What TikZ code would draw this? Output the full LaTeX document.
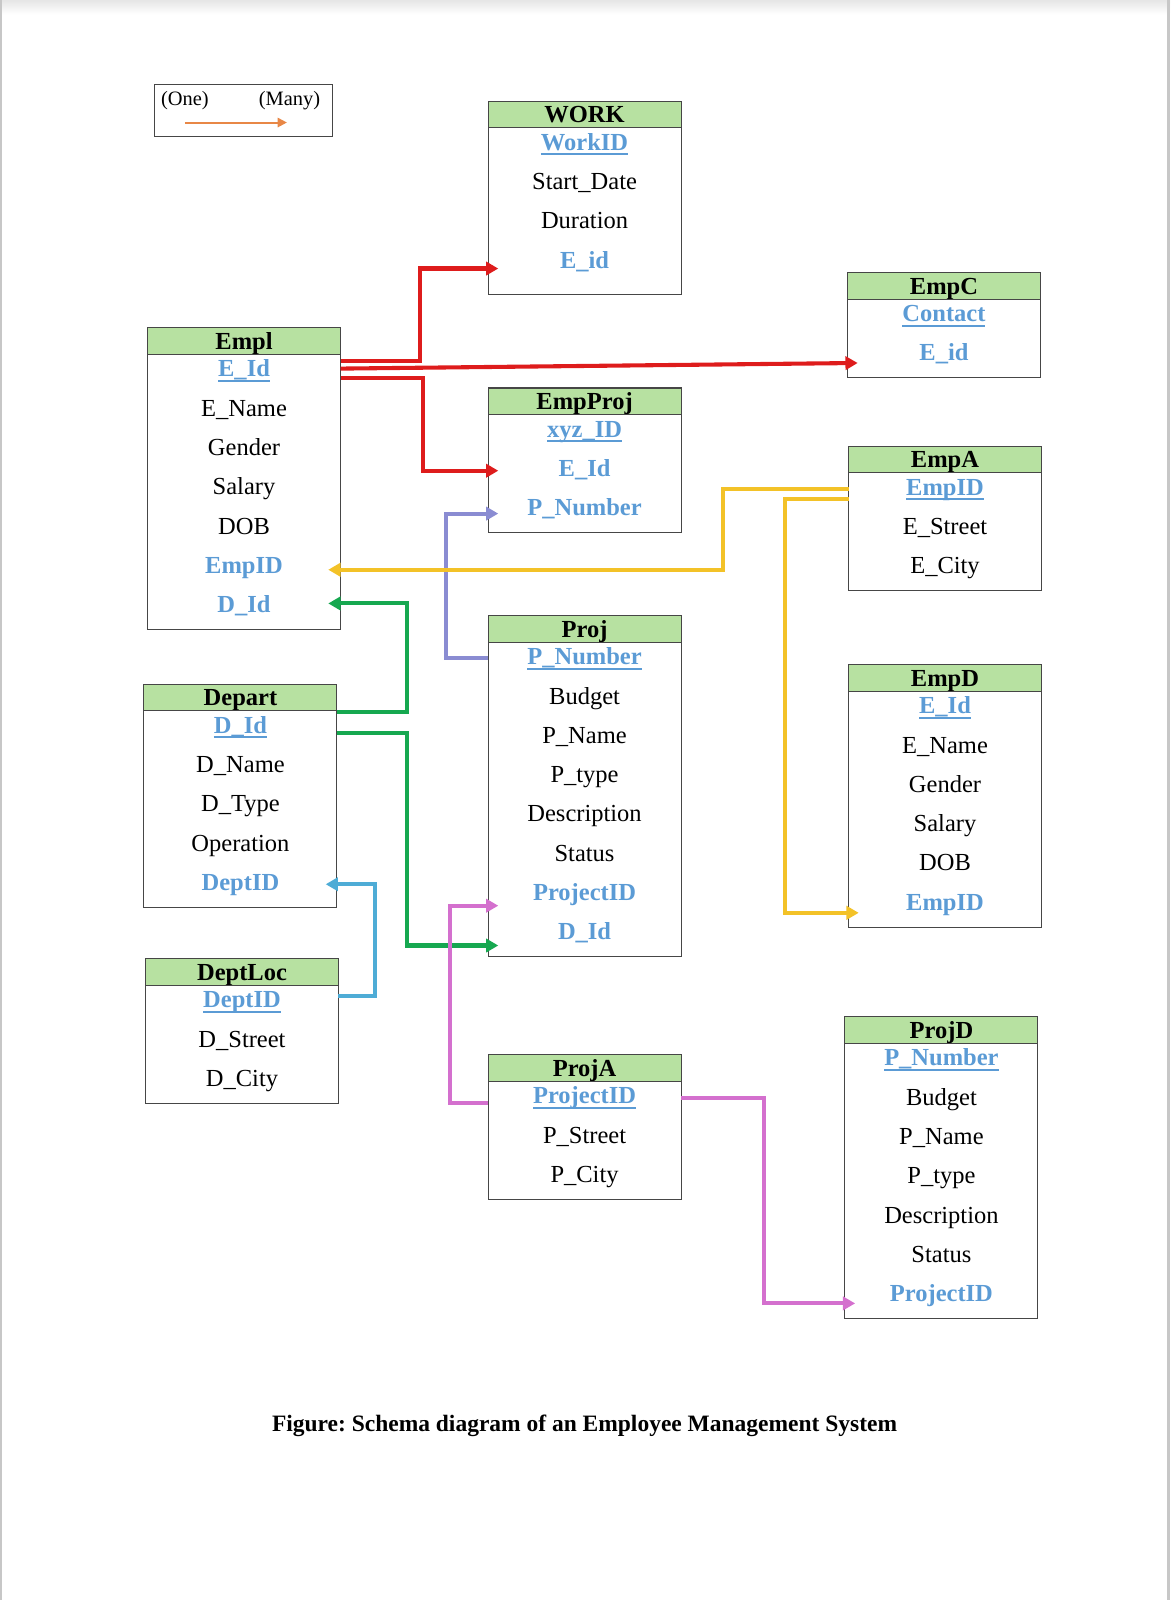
\documentclass[tikz,border=0pt]{standalone}
\usepackage{fontspec}
\setmainfont{Liberation Serif}
\usepackage{tikz}
\usetikzlibrary{calc, positioning, arrows.meta}

\definecolor{hdrgreen}{RGB}{183,225,161}
\definecolor{keyblue}{RGB}{91,155,213}
\definecolor{boxgray}{RGB}{70,70,70}
\definecolor{relred}{RGB}{222,28,28}
\definecolor{relgold}{RGB}{243,194,40}
\definecolor{relgreen}{RGB}{22,168,80}
\definecolor{relviolet}{RGB}{138,140,210}
\definecolor{relsky}{RGB}{78,172,214}
\definecolor{relpink}{RGB}{212,112,206}
\definecolor{legorange}{RGB}{232,135,70}

\newcommand\tblfont{\fontsize{12}{14}\selectfont}
\newcommand\keyul[1]{\setbox0=\hbox{#1}\rlap{\rule[-2.4pt]{\wd0}{0.9pt}}\box0}
\frenchspacing

\begin{document}
\begin{tikzpicture}[x=0.5pt, y=-0.5pt,
            tblhead/.style={draw=boxgray, line width=0.5pt, fill=hdrgreen,
                    minimum width=94.5pt, minimum height=13pt, inner sep=0pt,
                    outer sep=0pt, anchor=north, text height=8pt, text depth=0pt,
                    font=\tblfont\bfseries},
            tblbody/.style={draw=boxgray, line width=0.5pt, minimum width=94.5pt,
                    minimum height=#1*19.25pt, inner sep=0pt, outer sep=0pt},
            field/.style={inner sep=0pt, text height=8pt, text depth=0pt, font=\tblfont},
            keyfield/.style={field, text=keyblue, font=\tblfont\bfseries},
            rel/.style={line width=2pt, -{Triangle[length=6pt,width=6.5pt]}},
            legendbox/.style={draw=boxgray, line width=0.5pt, minimum width=87.5pt,
                    minimum height=25.5pt, inner sep=0pt},
            legendtext/.style={inner sep=0pt, font=\fontsize{10}{12}\selectfont},
        ]

        \useasboundingbox (0,0) rectangle (1146,1567);
        % page edges
        \shade[top color=black!10, bottom color=white] (0,0) rectangle (1146,14);
        \fill[black!22] (0,0) rectangle (2,1567);
        \fill[black!22] (1143,0) rectangle (1146,1567);

        % legend
        \node[legendbox] (legend) at (238.5,108.5) {};
        \node[legendtext] (one) at (181,99) {(One)};
        \node[legendtext] (many) at (283.5,99) {(Many)};
        \coordinate (lega) at (181,120);
        \coordinate (legb) at (281,120);
        \draw[legorange, line width=1pt, -{Triangle[length=4.5pt,width=4.5pt]}] (lega) -- (legb);

        % tables
        \node[tblhead] (workh) at (572.5,99) {WORK};
        \node[tblbody=4, minimum height=81.5pt, below=0pt of workh] (work) {};
        \foreach \kind/\field [count=\i] in {keyfield/\keyul{WorkID}, field/Start\_Date, field/Duration, keyfield/E\_id}
            \node[\kind] (work-\i) at ($(work.north)+(0,38.5*\i-24.5)$) {\field};

        \node[tblhead] (empch) at (924.5,267) {EmpC};
        \node[tblbody=2, below=0pt of empch] (empc) {};
        \foreach \kind/\field [count=\i] in {keyfield/\keyul{Contact}, keyfield/E\_id}
            \node[\kind] (empc-\i) at ($(empc.north)+(0,38.5*\i-24.5)$) {\field};

        \node[tblhead] (emplh) at (239,321) {Empl};
        \node[tblbody=7, below=0pt of emplh] (empl) {};
        \foreach \kind/\field [count=\i] in {keyfield/\keyul{E\_Id}, field/E\_Name, field/Gender, field/Salary, field/DOB, keyfield/EmpID, keyfield/D\_Id}
            \node[\kind] (empl-\i) at ($(empl.north)+(0,38.5*\i-24.5)$) {\field};

        \node[tblhead] (empprojh) at (572.5,380) {EmpProj};
        \node[tblbody=3, below=0pt of empprojh] (empproj) {};
        \foreach \kind/\field [count=\i] in {keyfield/\keyul{xyz\_ID}, keyfield/E\_Id, keyfield/P\_Number}
            \node[\kind] (empproj-\i) at ($(empproj.north)+(0,38.5*\i-24.5)$) {\field};

        \node[tblhead] (empah) at (925.5,437) {EmpA};
        \node[tblbody=3, below=0pt of empah] (empa) {};
        \foreach \kind/\field [count=\i] in {keyfield/\keyul{EmpID}, field/E\_Street, field/E\_City}
            \node[\kind] (empa-\i) at ($(empa.north)+(0,38.5*\i-24.5)$) {\field};

        \node[tblhead] (projh) at (572.5,603) {Proj};
        \node[tblbody=8, below=0pt of projh] (proj) {};
        \foreach \kind/\field [count=\i] in {keyfield/\keyul{P\_Number}, field/Budget, field/P\_Name, field/P\_type, field/Description, field/Status, keyfield/ProjectID, keyfield/D\_Id}
            \node[\kind] (proj-\i) at ($(proj.north)+(0,38.5*\i-24.5)$) {\field};

        \node[tblhead] (empdh) at (925.5,651) {EmpD};
        \node[tblbody=6, below=0pt of empdh] (empd) {};
        \foreach \kind/\field [count=\i] in {keyfield/\keyul{E\_Id}, field/E\_Name, field/Gender, field/Salary, field/DOB, keyfield/EmpID}
            \node[\kind] (empd-\i) at ($(empd.north)+(0,38.5*\i-24.5)$) {\field};

        \node[tblhead] (departh) at (235.5,670) {Depart};
        \node[tblbody=5, below=0pt of departh] (depart) {};
        \foreach \kind/\field [count=\i] in {keyfield/\keyul{D\_Id}, field/D\_Name, field/D\_Type, field/Operation, keyfield/DeptID}
            \node[\kind] (depart-\i) at ($(depart.north)+(0,38.5*\i-24.5)$) {\field};

        \node[tblhead] (deptloch) at (237,939) {DeptLoc};
        \node[tblbody=3, below=0pt of deptloch] (deptloc) {};
        \foreach \kind/\field [count=\i] in {keyfield/\keyul{DeptID}, field/D\_Street, field/D\_City}
            \node[\kind] (deptloc-\i) at ($(deptloc.north)+(0,38.5*\i-24.5)$) {\field};

        \node[tblhead] (projah) at (572.5,1033) {ProjA};
        \node[tblbody=3, below=0pt of projah] (proja) {};
        \foreach \kind/\field [count=\i] in {keyfield/\keyul{ProjectID}, field/P\_Street, field/P\_City}
            \node[\kind] (proja-\i) at ($(proja.north)+(0,38.5*\i-24.5)$) {\field};

        \node[tblhead] (projdh) at (922,996) {ProjD};
        \node[tblbody=7, below=0pt of projdh] (projd) {};
        \foreach \kind/\field [count=\i] in {keyfield/\keyul{P\_Number}, field/Budget, field/P\_Name, field/P\_type, field/Description, field/Status, keyfield/ProjectID}
            \node[\kind] (projd-\i) at ($(projd.north)+(0,38.5*\i-24.5)$) {\field};

        % relations
        \draw[rel, relred] ($(empl.east|-empl-1)+(0,-7)$) -- ++(77.5,0) |- ($(work.west|-work-4)+(10,8.5)$);
        \draw[rel, relred] (empl.east|-empl-1) -- ($(empc.west|-empc-2)+(10,10)$);
        \draw[rel, relred] ($(empl.east|-empl-1)+(0,9)$) -- ++(80.5,0) |- ($(empproj.west|-empproj-2)+(10,2.5)$);
        \draw[rel, relviolet] ($(proj.west|-proj-1)+(0,1)$) -- ++(-41,0) |- ($(empproj.west|-empproj-3)+(10,6)$);
        \draw[rel, relgold] ($(empa.west|-empa-1)+(0,1.5)$) -- ++(-123,0) |- ($(empl.east|-empl-6)+(-12,4.5)$);
        \draw[rel, relgold] ($(empa.west|-empa-1)+(0,11.5)$) -- ++(-62,0) |- ($(empd.west|-empd-6)+(10,10.5)$);
        \draw[rel, relgreen] ($(depart.east|-depart-1)+(0,-13)$) -- ++(69,0) |- ($(empl.east|-empl-7)+(-12,-1)$);
        \draw[rel, relgreen] ($(depart.east|-depart-1)+(0,8)$) -- ++(69,0) |- ($(proj.west|-proj-8)+(10,13.5)$);
        \draw[rel, relsky] ($(deptloc.east|-deptloc-1)+(0,-3.5)$) -- ++(35.5,0) |- ($(depart.east|-depart-5)+(-11,2)$);
        \draw[rel, relpink] ($(proja.west|-proja-1)+(0,7)$) -- ++(-37,0) |- ($(proj.west|-proj-7)+(10,13)$);
        \draw[rel, relpink] ($(proja.east|-proja-1)+(0,2.5)$) -- ++(81.5,0) |- ($(projd.west|-projd-7)+(10,9.5)$);

        % caption
        \node[font=\fontsize{11.5}{14}\selectfont\bfseries] (caption) at (572.5,1396) {Figure: Schema diagram of an Employee Management System};

    \end{tikzpicture}
\end{document}
